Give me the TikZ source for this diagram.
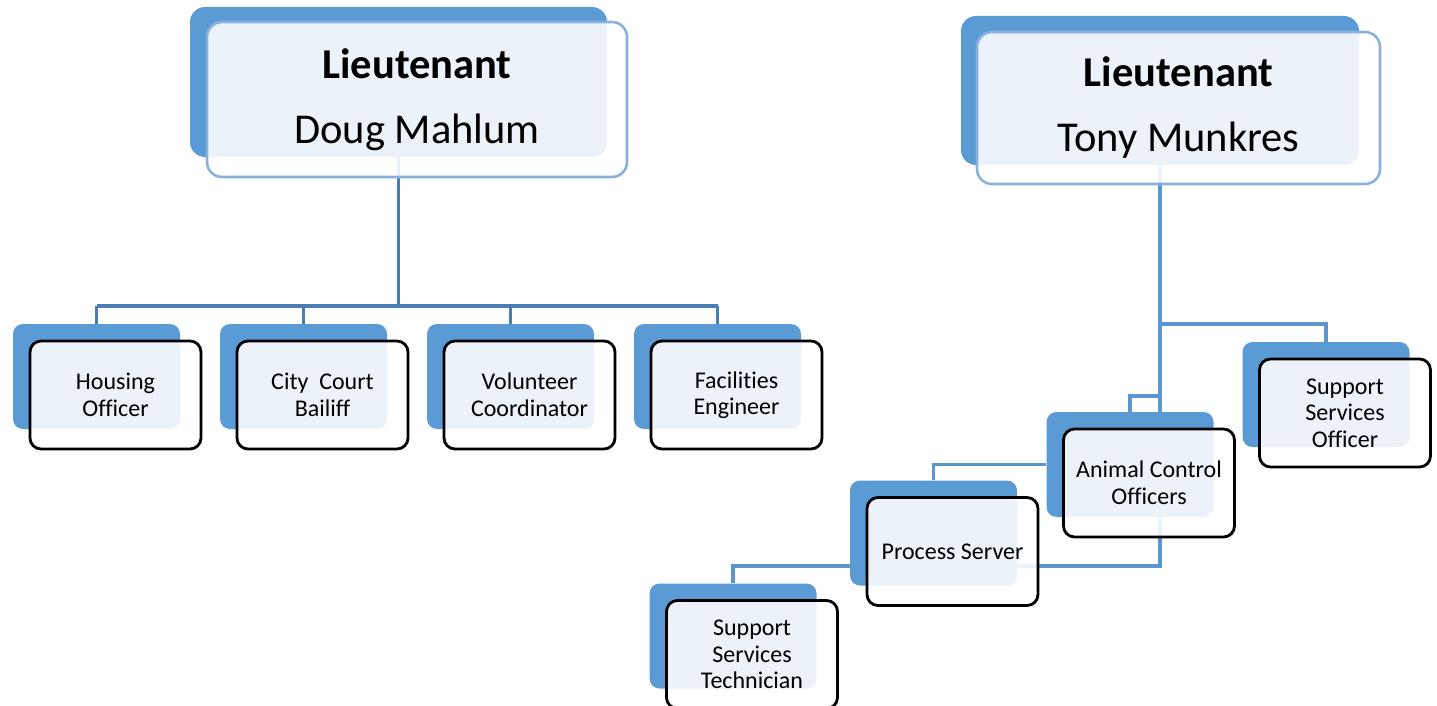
\documentclass[tikz,border=0pt]{standalone}
\usepackage{fontspec}
\setmainfont{Carlito}[Ligatures={NoCommon}]
\pgfdeclarelayer{bg}
\pgfsetlayers{bg,main}
\definecolor{backblue}{HTML}{5B9BD5}
\definecolor{lineL}{HTML}{4A7DB5}
\definecolor{lineR}{HTML}{5B96CF}
\definecolor{topedge}{HTML}{8AB0DE}
\tikzset{
 backbox/.style={fill=backblue, draw=none, rounded corners=10pt, inner sep=0pt},
 frontbox/.style={draw=black, line width=2.8pt, fill=white, fill opacity=0.88, text opacity=1, rounded corners=11pt, align=center, inner sep=0pt, font=\fontsize{24}{26.5}\selectfont},
 smallback/.style={backbox, minimum width=167pt, minimum height=105pt},
 smallfront/.style={frontbox, minimum width=171pt, minimum height=108pt},
 topback/.style={backbox, rounded corners=15pt},
 topfront/.style={frontbox, draw=topedge, line width=2.6pt, rounded corners=15pt, font=\fontsize{42.5}{65}\selectfont},
 connL/.style={draw=lineL, line width=3.4pt},
 stubL/.style={draw=lineL, line width=2.6pt},
 connR/.style={draw=lineR, line width=3.1pt},
}
\begin{document}
\begin{tikzpicture}[x=1pt,y=-1pt]
\useasboundingbox (0,0) rectangle (1437,706);
% top boxes
\node[topback, minimum width=417pt, minimum height=150pt] (dougb) at (398.5,82) {};
\node[topfront, minimum width=420pt, minimum height=155pt] (doug) at (417,99.5) {\textbf{Lieutenant}\\Doug Mahlum};
\node[topback, minimum width=398pt, minimum height=149pt] (tonyb) at (1160,90.5) {};
\node[topfront, minimum width=403pt, minimum height=152pt] (tony) at (1178.5,108) {\textbf{Lieutenant}\\Tony Munkres};
% left row
\node[smallback] (hob) at (96.5,376.5) {};
\node[smallfront] (ho) at (115.5,395) {Housing\\Officer};
\node[smallback] (ccb) at (303.5,376.5) {};
\node[smallfront] (cc) at (322.5,395) {City\ \ Court\\Bailiff};
\node[smallback] (vcb) at (510.5,376.5) {};
\node[smallfront] (vc) at (529.5,395) {Volunteer\\Coordinator};
\node[smallback] (feb) at (717.5,376.5) {};
\node[smallfront] (fe) at (736.5,395) {Facilities\\Engineer};
% right tree
\node[smallback] (ssob) at (1326,394.5) {};
\node[smallfront] (sso) at (1345,413) {Support\\Services\\Officer};
\node[smallback] (acb) at (1130,464.5) {};
\node[smallfront] (ac) at (1149,483) {Animal Control\\Officers};
\node[smallback] (psb) at (933.5,533) {};
\node[smallfront] (ps) at (952.5,551.5) {Process Server};
\node[smallback] (techb) at (733,636) {};
\node[smallfront] (tech) at (752,654.5) {Support\\Services\\Technician};
% connectors
\coordinate (lbus) at (0,306);
\coordinate (rbus) at (0,324);
\coordinate (abus) at (0,396);
\coordinate (pbus) at (0,566);
\begin{pgfonlayer}{bg}
\draw[connL] (dougb.south) -- (dougb.south |- lbus);
\draw[connL] (hob.north |- lbus) -- (feb.north |- lbus);
\draw[stubL] (hob.north) -- (hob.north |- lbus);
\draw[stubL] (ccb.north) -- (ccb.north |- lbus);
\draw[stubL] (vcb.north) -- (vcb.north |- lbus);
\draw[stubL] (feb.north) -- (feb.north |- lbus);
\draw[connR] (tonyb.south) -- (tonyb.south |- pbus) -| (techb.north);
\draw[connR] (tonyb.south |- rbus) -| (ssob.north);
\draw[connR] (tonyb.south |- abus) -| (acb.north);
\draw[connR] (acb.west) -| (psb.north);
\end{pgfonlayer}
\end{tikzpicture}
\end{document}
